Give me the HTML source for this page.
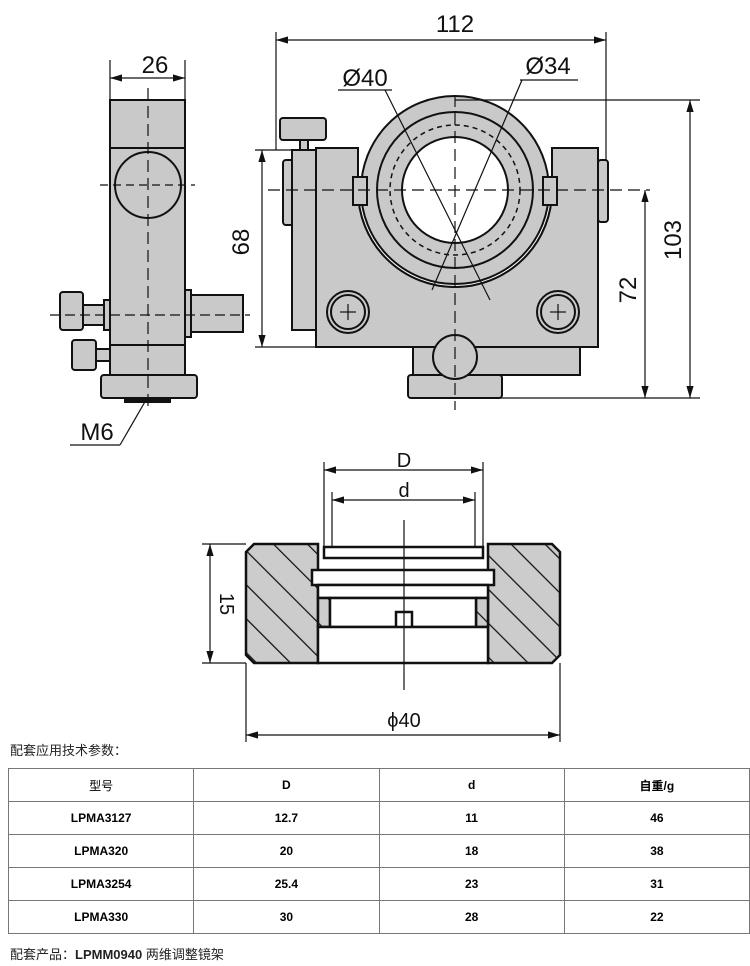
<!DOCTYPE html>
<html><head><meta charset="utf-8"><style>
body{margin:0;background:#fff;width:750px;height:966px;overflow:hidden;position:relative;font-family:"Liberation Sans","Noto Sans CJK SC",sans-serif}
svg{position:absolute;left:0;top:0}
.t{position:absolute;font-size:13px;color:#222}
table{position:absolute;left:8px;top:768px;width:742px;border-collapse:collapse;font-size:12px;font-weight:bold;table-layout:fixed}
td{border:1px solid #777;text-align:center;height:32px;padding:0}
</style></head><body>
<svg width="750" height="760" viewBox="0 0 750 760" font-family="Liberation Sans, sans-serif">
<defs>
<pattern id="h" width="24" height="24" patternUnits="userSpaceOnUse" patternTransform="rotate(-45)">
<rect width="24" height="24" fill="#ccc"/><line x1="0" y1="0" x2="0" y2="24" stroke="#111" stroke-width="2.5"/></pattern>
<marker id="a" markerWidth="10" markerHeight="6" refX="10" refY="3" orient="auto-start-reverse"><path d="M0,0 L10,3 L0,6z" fill="#111"/></marker>
</defs>
<g stroke="#111" stroke-width="2" fill="#c9c9c9">
<rect x="110" y="100" width="75" height="48"/>
<rect x="110" y="148" width="75" height="197"/>
<circle cx="148" cy="185" r="33"/>
<rect x="60" y="292" width="23" height="38" rx="3"/>
<rect x="83" y="305" width="27" height="20"/>
<rect x="104" y="300" width="6" height="30"/>
<rect x="185" y="295" width="58" height="37"/>
<rect x="185" y="290" width="6" height="47"/>
<rect x="110" y="345" width="75" height="30"/>
<rect x="72" y="340" width="24" height="30" rx="3"/>
<rect x="96" y="349" width="14" height="12"/>
<rect x="101" y="375" width="96" height="23" rx="3"/>
<rect x="125" y="398" width="45" height="4" fill="#111"/>
<rect x="280" y="118" width="46" height="22" rx="3"/>
<rect x="300" y="140" width="8" height="10"/>
<rect x="283" y="160" width="12" height="65" rx="3"/>
<rect x="292" y="150" width="24" height="180"/>
<rect x="598" y="160" width="10" height="62" rx="3"/>
<path d="M316,148 H358 V190 A97,97 0 0 0 552,190 V148 H598 V347 H316 Z"/>
<path d="M358,190 A97,97 0 0 0 552,190" fill="#fff"/>
<circle cx="455" cy="190" r="94"/>
<circle cx="455" cy="190" r="78"/>
<circle cx="455" cy="190" r="65" fill="none" stroke-dasharray="5,4" stroke-width="1.5"/>
<circle cx="455" cy="190" r="53" fill="#fff"/>
<rect x="353" y="177" width="14" height="28"/>
<rect x="543" y="177" width="14" height="28"/>
<circle cx="348" cy="312" r="21"/><circle cx="348" cy="312" r="17"/>
<circle cx="558" cy="312" r="21"/><circle cx="558" cy="312" r="17"/>
<rect x="413" y="347" width="167" height="28"/>
<rect x="408" y="375" width="94" height="23" rx="3"/>
<circle cx="455" cy="357" r="22"/>
</g>
<g stroke="#111" stroke-width="1.2" fill="none">
<line x1="148" y1="88" x2="148" y2="410" stroke-dasharray="12,6"/>
<line x1="100" y1="185" x2="195" y2="185" stroke-dasharray="8,5"/>
<line x1="50" y1="315" x2="250" y2="315" stroke-dasharray="10,5"/>
<line x1="110" y1="60" x2="110" y2="100"/><line x1="185" y1="60" x2="185" y2="100"/>
<line x1="110" y1="78" x2="185" y2="78" marker-start="url(#a)" marker-end="url(#a)"/>
<line x1="146" y1="400" x2="120" y2="445"/><line x1="70" y1="445" x2="120" y2="445"/>
<line x1="455" y1="95" x2="455" y2="410" stroke-dasharray="12,6"/>
<line x1="268" y1="190" x2="650" y2="190" stroke-dasharray="12,6"/>
<line x1="276" y1="32" x2="276" y2="150"/><line x1="606" y1="32" x2="606" y2="160"/>
<line x1="276" y1="40" x2="606" y2="40" marker-start="url(#a)" marker-end="url(#a)"/>
<line x1="255" y1="150" x2="292" y2="150"/><line x1="255" y1="347" x2="316" y2="347"/>
<line x1="262" y1="150" x2="262" y2="347" marker-start="url(#a)" marker-end="url(#a)"/>
<line x1="455" y1="100" x2="700" y2="100"/><line x1="455" y1="398" x2="700" y2="398"/>
<line x1="645" y1="190" x2="645" y2="398" marker-start="url(#a)" marker-end="url(#a)"/>
<line x1="690" y1="100" x2="690" y2="398" marker-start="url(#a)" marker-end="url(#a)"/>
<line x1="338" y1="90" x2="392" y2="90"/><line x1="385" y1="90" x2="490" y2="300"/>
<line x1="520" y1="80" x2="578" y2="80"/><line x1="522" y1="80" x2="432" y2="290"/>
<line x1="340" y1="312" x2="356" y2="312"/><line x1="348" y1="304" x2="348" y2="320"/>
<line x1="550" y1="312" x2="566" y2="312"/><line x1="558" y1="304" x2="558" y2="320"/>
</g>
<g font-size="24" fill="#111" text-anchor="middle">
<text x="155" y="73">26</text>
<text x="455" y="32">112</text>
<text x="365" y="86">Ø40</text>
<text x="548" y="74">Ø34</text>
<text x="97" y="440">M6</text>
<text transform="translate(249,242) rotate(-90)">68</text>
<text transform="translate(636,290) rotate(-90)">72</text>
<text transform="translate(681,240) rotate(-90)">103</text>
</g>
<g stroke="#111" stroke-width="2.5">
<path d="M254,544 H318 V663 H254 L246,655 V552 Z" fill="url(#h)"/>
<path d="M488,544 H552 L560,552 V655 L552,663 H488 Z" fill="url(#h)"/>
<rect x="324" y="547" width="159" height="11" fill="#fff"/>
<rect x="312" y="570" width="182" height="15" fill="#fff"/>
<rect x="318" y="585" width="170" height="13" fill="#fff"/>
<rect x="318" y="598" width="12" height="29" fill="url(#h)"/>
<rect x="476" y="598" width="12" height="29" fill="url(#h)"/>
<path d="M330,598 H476 V627 H412 V612 H396 V627 H330 Z" fill="#fff"/>
<rect x="318" y="627" width="170" height="36" fill="#fff"/>
</g>
<g stroke="#111" stroke-width="1.2" fill="none">
<line x1="324" y1="462" x2="324" y2="547"/><line x1="483" y1="462" x2="483" y2="547"/>
<line x1="332" y1="492" x2="332" y2="547"/><line x1="475" y1="492" x2="475" y2="547"/>
<line x1="324" y1="470" x2="483" y2="470" marker-start="url(#a)" marker-end="url(#a)"/>
<line x1="332" y1="500" x2="475" y2="500" marker-start="url(#a)" marker-end="url(#a)"/>
<line x1="404" y1="520" x2="404" y2="690"/>
<line x1="202" y1="544" x2="246" y2="544"/><line x1="202" y1="663" x2="246" y2="663"/>
<line x1="210" y1="544" x2="210" y2="663" marker-start="url(#a)" marker-end="url(#a)"/>
<line x1="246" y1="663" x2="246" y2="742"/><line x1="560" y1="663" x2="560" y2="742"/>
<line x1="246" y1="735" x2="560" y2="735" marker-start="url(#a)" marker-end="url(#a)"/>
</g>
<g font-size="20" fill="#111" text-anchor="middle">
<text x="404" y="467">D</text><text x="404" y="497">d</text>
<text x="404" y="727">ϕ40</text>
<text transform="translate(220,604) rotate(90)">15</text>
</g>
</svg>
<div class="t" style="left:10px;top:740px">配套应用技术参数：</div>
<table>
<tr><td style="font-weight:normal">型号</td><td>D</td><td>d</td><td>自重/g</td></tr>
<tr><td>LPMA3127</td><td>12.7</td><td>11</td><td>46</td></tr>
<tr><td>LPMA320</td><td>20</td><td>18</td><td>38</td></tr>
<tr><td>LPMA3254</td><td>25.4</td><td>23</td><td>31</td></tr>
<tr><td>LPMA330</td><td>30</td><td>28</td><td>22</td></tr>
</table>
<div class="t" style="left:10px;top:944px">配套产品：<b>LPMM0940</b> 两维调整镜架</div>
</body></html>
